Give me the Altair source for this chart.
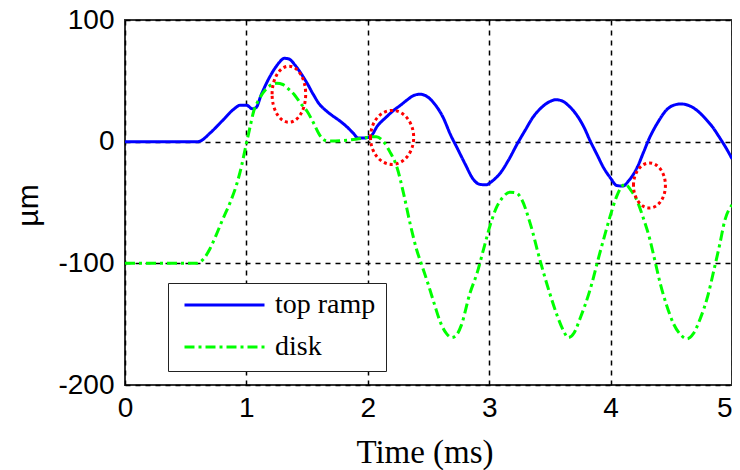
import altair as alt
import pandas as pd

# ---- data ----
ramp_t = [0.0, 0.6, 0.62, 0.7, 0.8, 0.9, 0.95, 1.0, 1.05, 1.08, 1.12, 1.17, 1.22, 1.27, 1.31, 1.35,
          1.4, 1.45, 1.5, 1.55, 1.6, 1.65, 1.7, 1.77, 1.83, 1.88, 1.92, 1.97, 2.02, 2.08, 2.15, 2.21,
          2.27, 2.32, 2.38, 2.43, 2.49, 2.55, 2.62, 2.68, 2.74, 2.8, 2.87, 2.92, 2.97, 3.03, 3.09,
          3.16, 3.23, 3.3, 3.36, 3.43, 3.5, 3.55, 3.6, 3.66, 3.72, 3.78, 3.83, 3.89, 3.94, 4.0, 4.05,
          4.1, 4.15, 4.22, 4.27, 4.32, 4.39, 4.46, 4.52, 4.58, 4.65, 4.72, 4.78, 4.84, 4.9, 4.95, 5.0]
ramp_um = [0, 0, 0.5, 7, 17, 27, 30, 30, 27, 28, 38, 49, 58, 65, 68.5, 68,
           63, 56, 48, 39, 31, 26, 22, 17, 12, 7, 3, 3, 4, 13, 20, 25.5,
           30, 34, 38, 39, 37, 31, 20, 6, -6, -18, -31, -35, -35.5, -32, -26,
           -15, -2, 10, 20, 28, 33, 34.5, 33.5, 29, 22, 12, 1, -11, -21, -30, -36,
           -36.5, -32, -21, -9, 3, 16, 26, 30, 31, 29.5, 25, 19, 12, 3, -5, -14]

disk_t = [0.0, 0.59, 0.65, 0.7, 0.75, 0.8, 0.87, 0.92, 0.96, 0.99, 1.03, 1.06, 1.1, 1.17, 1.25, 1.3,
          1.35, 1.4, 1.45, 1.5, 1.55, 1.6, 1.65, 1.7, 1.8, 1.9, 1.97, 2.02, 2.07, 2.13, 2.18, 2.24,
          2.3, 2.35, 2.4, 2.45, 2.5, 2.55, 2.6, 2.65, 2.69, 2.73, 2.77, 2.84, 2.9, 2.96, 3.01, 3.06,
          3.11, 3.17, 3.22, 3.27, 3.34, 3.42, 3.5, 3.56, 3.61, 3.65, 3.7, 3.75, 3.83, 3.91, 3.96,
          4.0, 4.05, 4.09, 4.12, 4.16, 4.22, 4.27, 4.32, 4.37, 4.41, 4.46, 4.52, 4.58, 4.63, 4.68,
          4.74, 4.8, 4.85, 4.9, 4.94, 5.0]
disk_um = [-100, -100, -96, -88, -77, -65, -49, -35, -20, -6, 12, 25, 34, 44, 48, 47,
           43, 38, 31, 25, 16, 6, 1, 0.5, 1, 2, 3, 4, 4, 0, -8, -21,
           -45, -68, -88, -103, -118, -134, -149, -158, -161, -159, -151, -125, -108, -86, -68, -54,
           -46, -41.5, -42, -48, -68, -98, -125, -143, -155, -161, -157, -145, -122, -92, -74,
           -60, -45, -37, -35, -39, -49, -63, -79, -100, -117, -134, -150, -159, -162, -158,
           -145, -127, -106, -84, -65, -52]

series_names = ["top ramp", "disk"]
series_colors = ["#0000ff", "#00ff00"]

mark_t = [1.35, 2.2, 4.32]
mark_um = [39, 3.5, -36]

x_ticks = [0, 1, 2, 3, 4, 5]
y_ticks = [-200, -100, 0, 100]

# ---- build chart ----
df = pd.concat([
    pd.DataFrame({"t": ramp_t, "um": ramp_um, "series": series_names[0]}),
    pd.DataFrame({"t": disk_t, "um": disk_um, "series": series_names[1]}),
], ignore_index=True)

x_enc = alt.X("t:Q", scale=alt.Scale(domain=[0, 5], nice=False, zero=False),
              axis=alt.Axis(values=x_ticks, title="Time (ms)", labelFlush=False,
                            labelExpr="'' + datum.value",
                            labelAlign={"condition": {"test": "datum.value == 5", "value": "right"},
                                        "value": "center"},
                            labelPadding=9, titleFont="Liberation Serif", titleFontSize=33,
                            titleFontWeight="normal", titleX=299.5, titleY=77,
                            titleBaseline="alphabetic", titleAlign="center", titleColor="#000"))
y_enc = alt.Y("um:Q", scale=alt.Scale(domain=[-200, 100], nice=False, zero=False),
              axis=alt.Axis(values=y_ticks, title="µm", labelPadding=11,
                            labelExpr="'' + datum.value",
                            titleFont="Liberation Sans", titleFontSize=30,
                            titleFontWeight="normal", titleX=-97, titleY=185,
                            titleBaseline="middle", titleAlign="center", titleColor="#000"))

legend = alt.Legend(title=None, orient="none", legendX=43, legendY=263)
color_enc = alt.Color("series:N", scale=alt.Scale(domain=series_names, range=series_colors),
                      legend=legend)
dash_enc = alt.StrokeDash("series:N", scale=alt.Scale(domain=series_names,
                                                      range=[[1, 0], [10, 4, 3, 4]]),
                          legend=legend)

base = alt.Chart(df).mark_line(strokeWidth=3, interpolate="monotone").encode(
    x=x_enc, y=y_enc, color=color_enc, strokeDash=dash_enc)

line_ramp = base.transform_filter(alt.datum.series == series_names[0])
line_disk = base.transform_filter(alt.datum.series == series_names[1])

ellipse_shapes = [(0.6, 3136), (0.8, 2916), (0.71, 2025)]
ellipses = []
for i, (a, sz) in enumerate(ellipse_shapes):
    path = f"M {-a} 0 A {a} 1 0 1 1 {a} 0 A {a} 1 0 1 1 {-a} 0 Z"
    edf = pd.DataFrame({"t": [mark_t[i]], "um": [mark_um[i]]})
    ellipses.append(
        alt.Chart(edf).mark_point(shape=path, size=sz, filled=False, stroke="#ff0000",
                                  strokeWidth=3, strokeDash=[3, 3], opacity=1).encode(
            x=alt.X("t:Q"), y=alt.Y("um:Q"))
    )

chart = alt.layer(line_ramp, line_disk, *ellipses).properties(
    width=607, height=365,
    autosize=alt.AutoSizeParams(type="none"),
    padding={"left": 117, "top": 12, "right": 0, "bottom": 86},
).configure_view(
    stroke="#333333", strokeWidth=2
).configure_axis(
    labelFont="Liberation Sans", labelFontSize=28, labelColor="#000",
    ticks=False, domain=False, grid=True, gridColor="#000", gridDash=[5, 5],
    gridWidth=1.5, gridOpacity=1,
).configure_legend(
    symbolType="stroke", symbolSize=6400, symbolStrokeWidth=3,
    labelFont="Liberation Serif", labelFontSize=28, labelColor="#000",
    padding=10, fillColor="#ffffff", strokeColor="#222222",
    clipHeight=24, rowPadding=14, labelOffset=9, symbolOffset=5,
)

chart.save("out.html", embed_options={"renderer": "svg", "actions": False})
